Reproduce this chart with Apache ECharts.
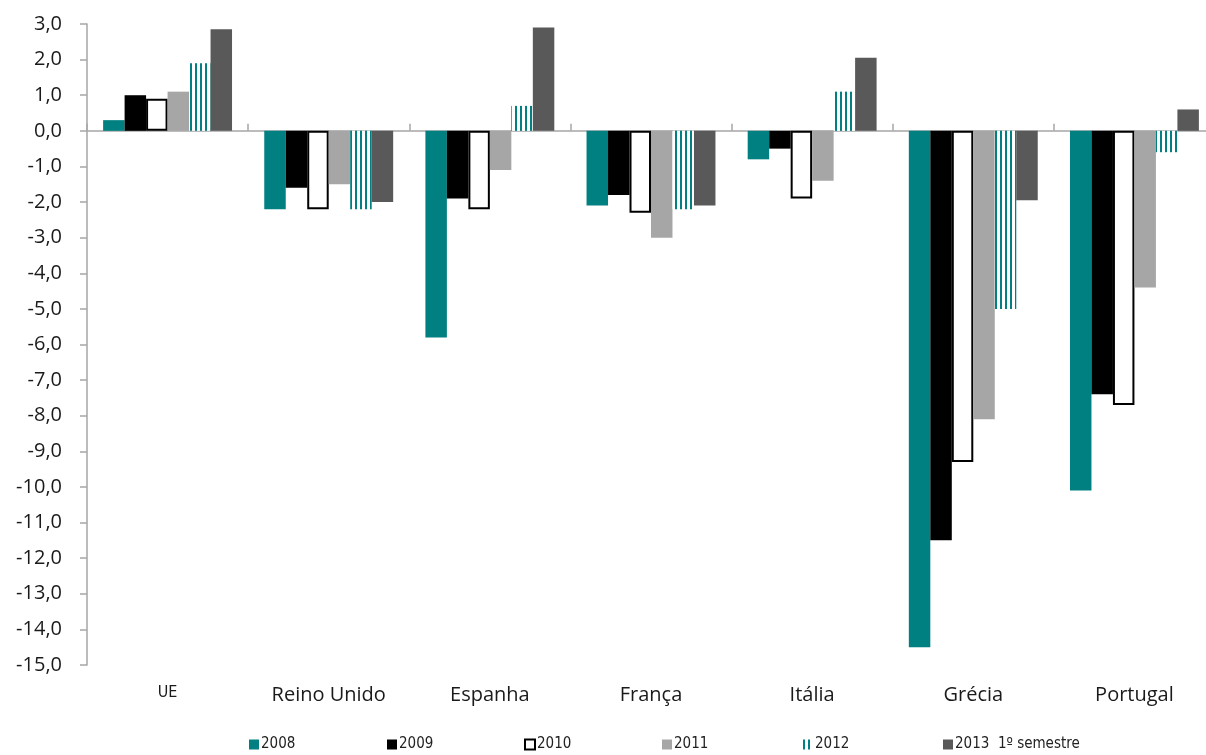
<!DOCTYPE html>
<html>
<head>
<meta charset="utf-8">
<script src="https://cdn.jsdelivr.net/npm/echarts@6/dist/echarts.min.js"></script>
<style>
html,body{margin:0;padding:0;background:#fff;}
#c{width:1206px;height:755px;}
</style>
</head>
<body>
<div id="c"></div>
<script>
const categories = ['UE', 'Reino Unido', 'Espanha', 'França', 'Itália', 'Grécia', 'Portugal'];
const seriesNames = ['2008', '2009', '2010', '2011', '2012', '2013  1º semestre'];
const v2008 = [0.3, -2.2, -5.8, -2.1, -0.8, -14.5, -10.1];
const v2009 = [1.0, -1.6, -1.9, -1.8, -0.5, -11.5, -7.4];
const v2010 = [0.9, -2.2, -2.2, -2.3, -1.9, -9.3, -7.7];
const v2011 = [1.1, -1.5, -1.1, -3.0, -1.4, -8.1, -4.4];
const v2012 = [1.9, -2.2, 0.7, -2.2, 1.1, -5.0, -0.6];
const v2013 = [2.85, -2.0, 2.9, -2.1, 2.05, -1.95, 0.6];
const yTicks = [-15, -14, -13, -12, -11, -10, -9, -8, -7, -6, -5, -4, -3, -2, -1, 0, 1, 2, 3];

// stripe pattern for 2012
const pc = document.createElement('canvas');
pc.width = 5; pc.height = 10;
const pctx = pc.getContext('2d');
pctx.fillStyle = '#ffffff';
pctx.fillRect(0, 0, 5, 10);
pctx.fillStyle = '#008080';
pctx.fillRect(0, 0, 2, 10);
const stripe = { image: pc, repeat: 'repeat' };

const styles = [
  { color: '#008080' },
  { color: '#000000' },
  { color: '#ffffff', borderColor: '#000000', borderWidth: 2 },
  { color: '#a6a6a6' },
  { color: stripe },
  { color: '#595959' }
];
const dataSets = [v2008, v2009, v2010, v2011, v2012, v2013];

const chart = echarts.init(document.getElementById('c'), null, { renderer: 'canvas' });
const legendX = [249, 387, 524, 662, 803, 943];
const legendFont = "'Liberation Sans Narrow','DejaVu Sans Condensed','Open Sans',sans-serif";

const option = {
  backgroundColor: '#ffffff',
  animation: false,
  textStyle: { fontFamily: "'Open Sans', sans-serif" },
  grid: { left: 87, top: 24, bottom: 90, right: -9, containLabel: false, outerBoundsMode: 'none' },
  legend: seriesNames.map((n, i) => ({
    data: [n],
    left: legendX[i],
    top: 737,
    itemWidth: 10,
    itemHeight: 10,
    itemGap: 0,
    padding: 0,
    icon: 'rect',
    textStyle: { fontFamily: legendFont, fontSize: 15, color: '#222', padding: [0, 0, 0, -3] }
  })),
  xAxis: [
    {
      type: 'category',
      data: categories,
      axisLine: { onZero: true, lineStyle: { color: '#a6a6a6', width: 1.5 } },
      axisTick: { show: true, inside: true, length: 7, lineStyle: { color: '#a6a6a6', width: 1.5 } },
      axisLabel: { show: false },
      splitLine: { show: false }
    },
    {
      type: 'category',
      data: categories,
      position: 'bottom',
      axisLine: { show: false, onZero: false },
      axisTick: { show: false },
      axisLabel: {
        margin: 20,
        fontSize: 20,
        color: '#1a1a1a',
        fontFamily: "'Open Sans', sans-serif",
        formatter: function (v) { return v === 'UE' ? '{s|' + v + '}' : v; },
        rich: { s: { fontSize: 16, fontFamily: legendFont, color: '#1a1a1a' } }
      }
    }
  ],
  yAxis: {
    type: 'value',
    min: -15,
    max: 3,
    interval: 1,
    axisLine: { show: true, lineStyle: { color: '#a6a6a6', width: 1.5 } },
    axisTick: { show: true, length: 7, lineStyle: { color: '#a6a6a6', width: 1.5 } },
    splitLine: { show: false },
    axisLabel: {
      margin: 25,
      fontSize: 20,
      color: '#1a1a1a',
      fontFamily: "'Open Sans', sans-serif",
      customValues: yTicks,
      formatter: function (v) { return v.toFixed(1).replace('.', ','); }
    }
  },
  graphic: [{
    type: 'text', left: 68, top: -15,
    style: { text: '(em % do PIB)', fontSize: 15, fill: '#555', fontFamily: "'Open Sans', sans-serif" }
  }],
  series: seriesNames.map((n, i) => ({
    name: n,
    type: 'bar',
    xAxisIndex: 0,
    data: dataSets[i],
    barGap: '0%',
    barCategoryGap: '20%',
    itemStyle: styles[i],
    emphasis: { disabled: true }
  }))
};
chart.setOption(option);
</script>
</body>
</html>
